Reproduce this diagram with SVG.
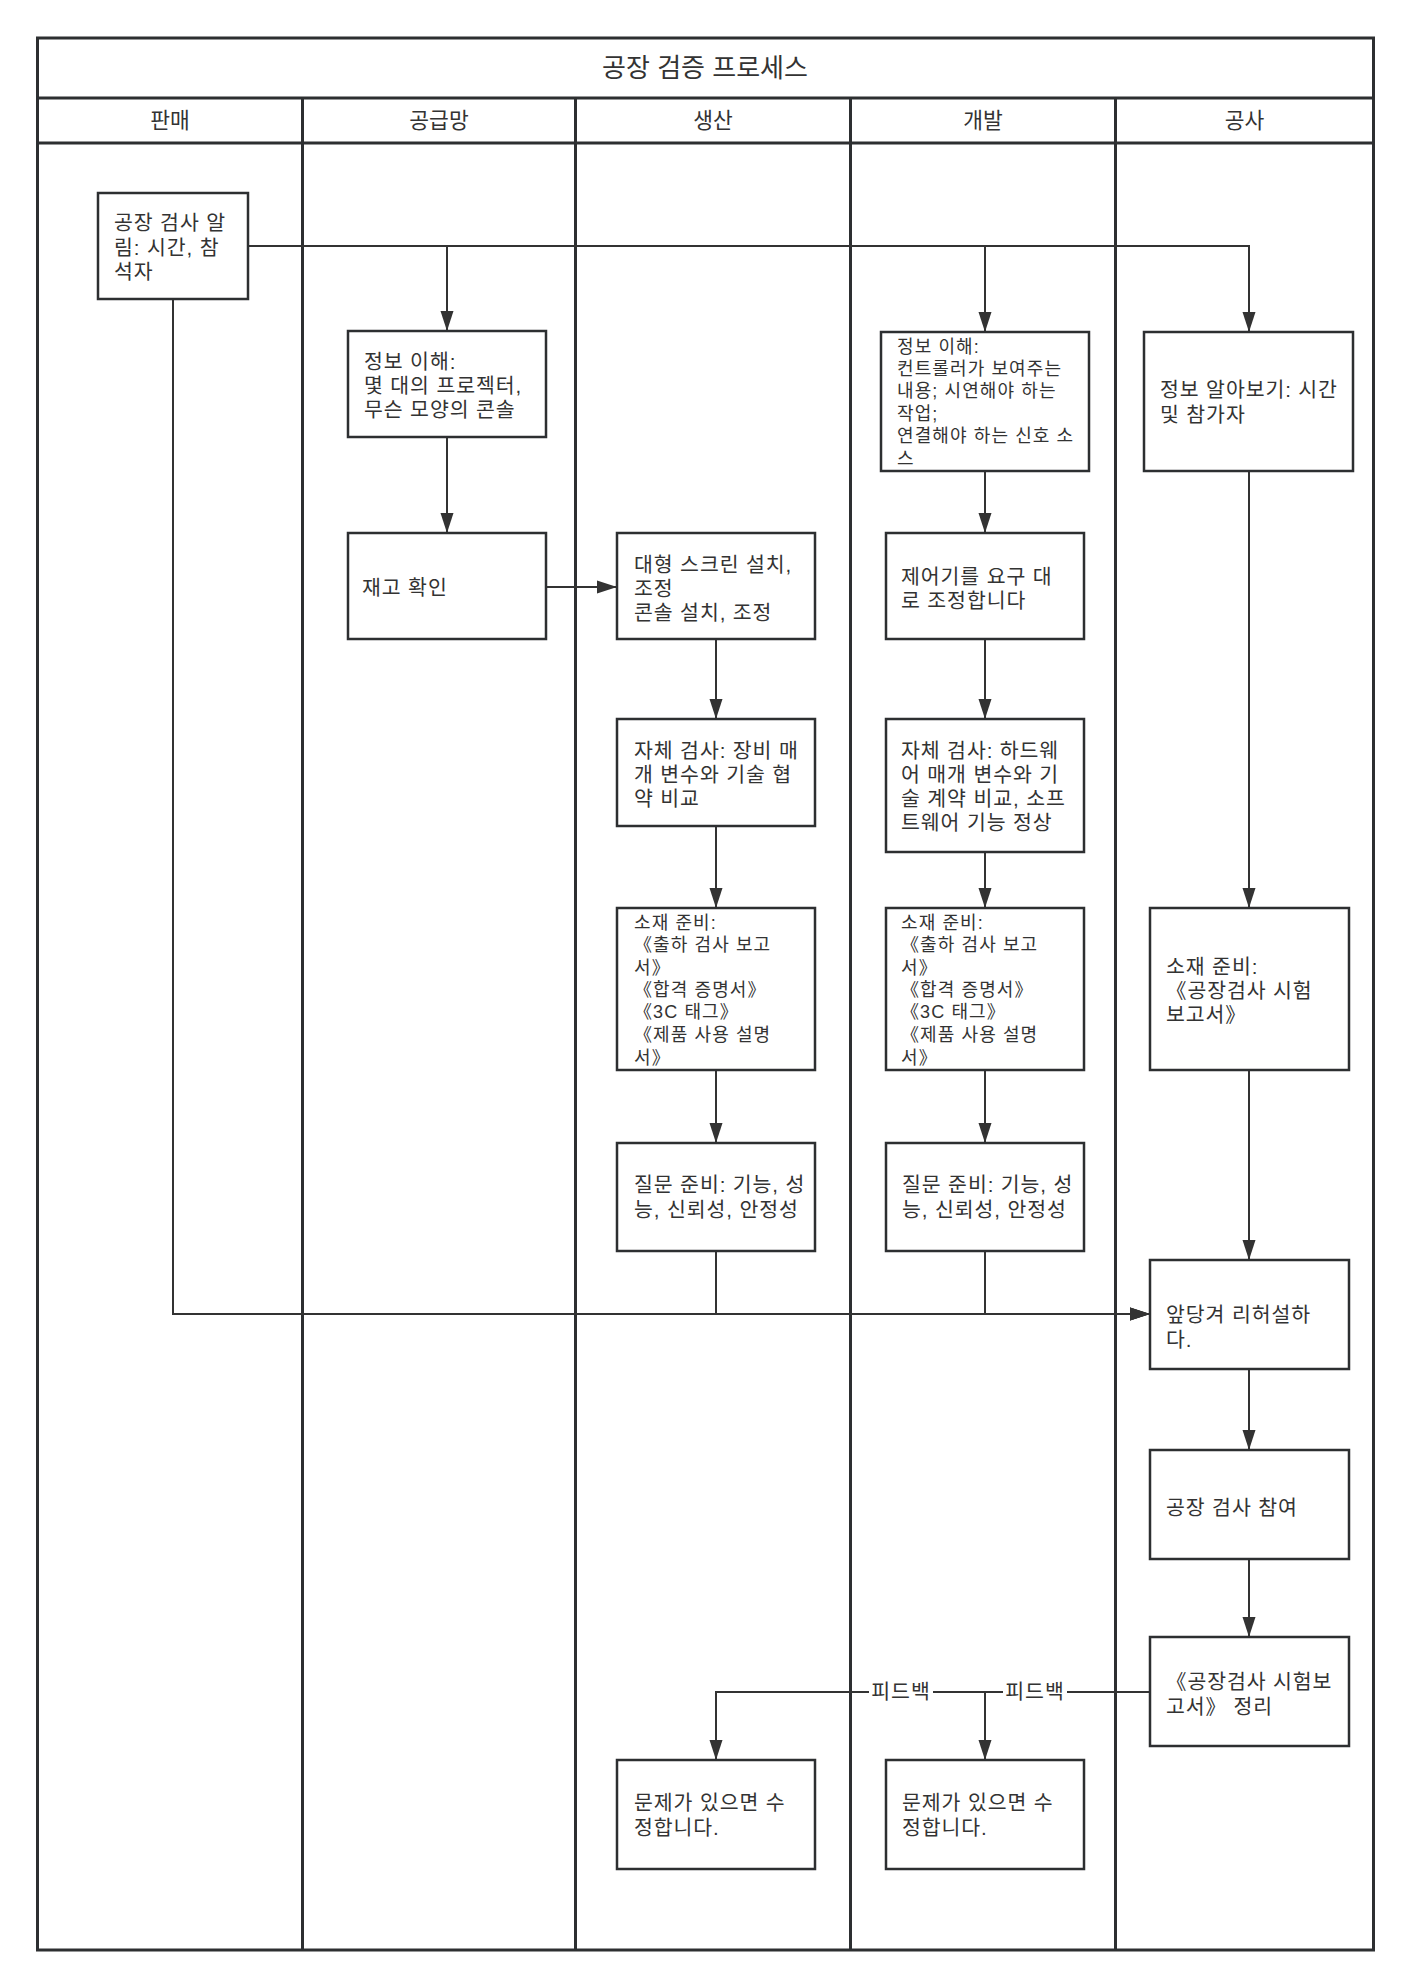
<svg xmlns="http://www.w3.org/2000/svg" width="1411" height="1987" viewBox="0 0 1411 1987">
<style>
text{font-family:"Liberation Sans","Noto Sans CJK KR",sans-serif;fill:#333}
.t{font-size:20.5px;letter-spacing:0.9px}
.s{font-size:18px;letter-spacing:1.1px}
.h{font-size:21.5px;text-anchor:middle}
.ttl{font-size:26px;text-anchor:middle}
.lane{fill:none;stroke:#2d2f31;stroke-width:3}
.box{fill:#fff;stroke:#2d2f31;stroke-width:2.5}
.c{fill:none;stroke:#333;stroke-width:2}
.lbl{font-size:20.5px;letter-spacing:1px;text-anchor:middle}
</style>
<defs>
<marker id="arr" markerWidth="20" markerHeight="14" refX="20" refY="7" orient="auto" markerUnits="userSpaceOnUse"><path d="M0,0.5 L20,7 L0,13.5 Z" fill="#333"/></marker>
</defs>
<rect width="1411" height="1987" fill="#fff"/>
<g id="pool">
<rect class="lane" x="37.5" y="38" width="1336" height="1912"/>
<line class="lane" x1="37.5" y1="98" x2="1373.5" y2="98"/>
<line class="lane" x1="37.5" y1="143" x2="1373.5" y2="143"/>
<line class="lane" x1="302.5" y1="98" x2="302.5" y2="1950"/>
<line class="lane" x1="575.5" y1="98" x2="575.5" y2="1950"/>
<line class="lane" x1="850.5" y1="98" x2="850.5" y2="1950"/>
<line class="lane" x1="1115.5" y1="98" x2="1115.5" y2="1950"/>
<text class="ttl" x="705" y="77">공장 검증 프로세스</text>
<text class="h" x="170" y="128">판매</text>
<text class="h" x="439" y="128">공급망</text>
<text class="h" x="713" y="128">생산</text>
<text class="h" x="983" y="128">개발</text>
<text class="h" x="1244.5" y="128">공사</text>
</g>
<g id="connectors">
<path class="c" d="M248,246 H447 V331" marker-end="url(#arr)"/>
<path class="c" d="M248,246 H985 V332" marker-end="url(#arr)"/>
<path class="c" d="M248,246 H1249 V332" marker-end="url(#arr)"/>
<path class="c" d="M447,437 V533" marker-end="url(#arr)"/>
<path class="c" d="M546,587 H617" marker-end="url(#arr)"/>
<path class="c" d="M716,639 V719" marker-end="url(#arr)"/>
<path class="c" d="M716,826 V908" marker-end="url(#arr)"/>
<path class="c" d="M716,1070 V1143" marker-end="url(#arr)"/>
<path class="c" d="M716,1251 V1314 H1150" marker-end="url(#arr)"/>
<path class="c" d="M985,471 V533" marker-end="url(#arr)"/>
<path class="c" d="M985,639 V719" marker-end="url(#arr)"/>
<path class="c" d="M985,852 V908" marker-end="url(#arr)"/>
<path class="c" d="M985,1070 V1143" marker-end="url(#arr)"/>
<path class="c" d="M985,1251 V1314 H1150" marker-end="url(#arr)"/>
<path class="c" d="M173,299 V1314 H1150" marker-end="url(#arr)"/>
<path class="c" d="M1249,471 V908" marker-end="url(#arr)"/>
<path class="c" d="M1249,1070 V1260" marker-end="url(#arr)"/>
<path class="c" d="M1249,1369 V1450" marker-end="url(#arr)"/>
<path class="c" d="M1249,1559 V1637" marker-end="url(#arr)"/>
<path class="c" d="M1150,1692 H716 V1760" marker-end="url(#arr)"/>
<path class="c" d="M1150,1692 H985 V1760" marker-end="url(#arr)"/>
<rect x="869" y="1680" width="64" height="24" fill="#fff"/>
<text class="lbl" x="901" y="1699">피드백</text>
<rect x="1003" y="1680" width="64" height="24" fill="#fff"/>
<text class="lbl" x="1035" y="1699">피드백</text>
</g>
<g id="n1">
<rect class="box" x="98" y="193" width="150" height="106"/>
<text class="t" x="114" y="230">공장 검사 알</text>
<text class="t" x="114" y="255">림: 시간, 참</text>
<text class="t" x="114" y="279">석자</text>
</g>
<g id="n2">
<rect class="box" x="348" y="331" width="198" height="106"/>
<text class="t" x="364" y="369">정보 이해:</text>
<text class="t" x="364" y="393">몇 대의 프로젝터,</text>
<text class="t" x="364" y="417">무슨 모양의 콘솔</text>
</g>
<g id="n3">
<rect class="box" x="881" y="332" width="208" height="139"/>
<text class="s" x="897" y="353">정보 이해:</text>
<text class="s" x="897" y="375">컨트롤러가 보여주는</text>
<text class="s" x="897" y="397">내용; 시연해야 하는</text>
<text class="s" x="897" y="420">작업;</text>
<text class="s" x="897" y="442">연결해야 하는 신호 소</text>
<text class="s" x="897" y="465">스</text>
</g>
<g id="n4">
<rect class="box" x="1144" y="332" width="209" height="139"/>
<text class="t" x="1160" y="397">정보 알아보기: 시간</text>
<text class="t" x="1160" y="422">및 참가자</text>
</g>
<g id="n5">
<rect class="box" x="348" y="533" width="198" height="106"/>
<text class="t" x="362" y="595">재고 확인</text>
</g>
<g id="n6">
<rect class="box" x="617" y="533" width="198" height="106"/>
<text class="t" x="634" y="572">대형 스크린 설치,</text>
<text class="t" x="634" y="596">조정</text>
<text class="t" x="634" y="620">콘솔 설치, 조정</text>
</g>
<g id="n7">
<rect class="box" x="886" y="533" width="198" height="106"/>
<text class="t" x="901" y="584">제어기를 요구 대</text>
<text class="t" x="901" y="608">로 조정합니다</text>
</g>
<g id="n8">
<rect class="box" x="617" y="719" width="198" height="107"/>
<text class="t" x="634" y="758">자체 검사: 장비 매</text>
<text class="t" x="634" y="782">개 변수와 기술 협</text>
<text class="t" x="634" y="806">약 비교</text>
</g>
<g id="n9">
<rect class="box" x="886" y="719" width="198" height="133"/>
<text class="t" x="901" y="758">자체 검사: 하드웨</text>
<text class="t" x="901" y="782">어 매개 변수와 기</text>
<text class="t" x="901" y="806">술 계약 비교, 소프</text>
<text class="t" x="901" y="830">트웨어 기능 정상</text>
</g>
<g id="n10">
<rect class="box" x="617" y="908" width="198" height="162"/>
<text class="s" x="634" y="929">소재 준비:</text>
<text class="s" x="634" y="951">《출하 검사 보고</text>
<text class="s" x="634" y="974">서》</text>
<text class="s" x="634" y="996">《합격 증명서》</text>
<text class="s" x="634" y="1018">《3C 태그》</text>
<text class="s" x="634" y="1041">《제품 사용 설명</text>
<text class="s" x="634" y="1064">서》</text>
</g>
<g id="n11">
<rect class="box" x="886" y="908" width="198" height="162"/>
<text class="s" x="901" y="929">소재 준비:</text>
<text class="s" x="901" y="951">《출하 검사 보고</text>
<text class="s" x="901" y="974">서》</text>
<text class="s" x="901" y="996">《합격 증명서》</text>
<text class="s" x="901" y="1018">《3C 태그》</text>
<text class="s" x="901" y="1041">《제품 사용 설명</text>
<text class="s" x="901" y="1064">서》</text>
</g>
<g id="n12">
<rect class="box" x="1150" y="908" width="199" height="162"/>
<text class="t" x="1166" y="974">소재 준비:</text>
<text class="t" x="1166" y="998">《공장검사 시험</text>
<text class="t" x="1166" y="1022">보고서》</text>
</g>
<g id="n13">
<rect class="box" x="617" y="1143" width="198" height="108"/>
<text class="t" x="634" y="1192">질문 준비: 기능, 성</text>
<text class="t" x="634" y="1217">능, 신뢰성, 안정성</text>
</g>
<g id="n14">
<rect class="box" x="886" y="1143" width="198" height="108"/>
<text class="t" x="902" y="1192">질문 준비: 기능, 성</text>
<text class="t" x="902" y="1217">능, 신뢰성, 안정성</text>
</g>
<g id="n15">
<rect class="box" x="1150" y="1260" width="199" height="109"/>
<text class="t" x="1166" y="1322">앞당겨 리허설하</text>
<text class="t" x="1166" y="1347">다.</text>
</g>
<g id="n16">
<rect class="box" x="1150" y="1450" width="199" height="109"/>
<text class="t" x="1166" y="1515">공장 검사 참여</text>
</g>
<g id="n17">
<rect class="box" x="1150" y="1637" width="199" height="109"/>
<text class="t" x="1166" y="1689">《공장검사 시험보</text>
<text class="t" x="1166" y="1714">고서》 정리</text>
</g>
<g id="n18">
<rect class="box" x="617" y="1760" width="198" height="109"/>
<text class="t" x="634" y="1810">문제가 있으면 수</text>
<text class="t" x="634" y="1835">정합니다.</text>
</g>
<g id="n19">
<rect class="box" x="886" y="1760" width="198" height="109"/>
<text class="t" x="902" y="1810">문제가 있으면 수</text>
<text class="t" x="902" y="1835">정합니다.</text>
</g>
</svg>
